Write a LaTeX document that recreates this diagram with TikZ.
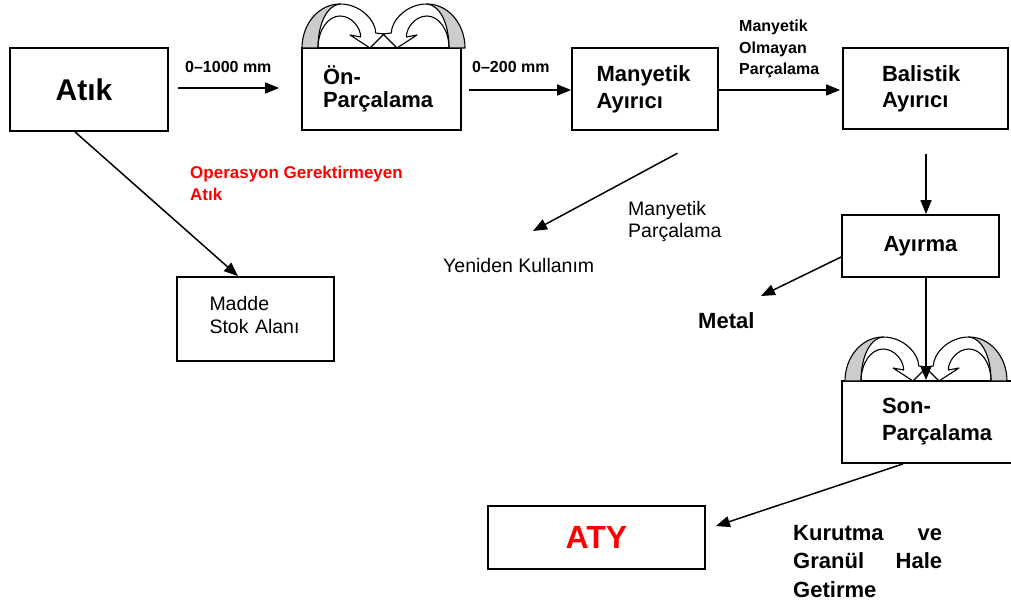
\documentclass[tikz,border=0pt]{standalone}
\usepackage{fontspec}
\setmainfont{Liberation Sans}
\usetikzlibrary{arrows.meta}
\tikzset{
  curv/.pic={
    \fill[white] (0,0) .. controls (0,-24.3) and (17,-44) .. (38,-44)
      .. controls (59,-44) and (73.7,-27) .. (73.7,-15) -- (82,-14) -- (68,0) -- (48,-13) -- (58.7,-11)
      .. controls (58.7,-20) and (50,-32) .. (38,-32) .. controls (25.9,-32) and (16,-17.7) .. (16,0) -- cycle;
    \fill[gray!40] (0,0) .. controls (0,-24.3) and (17,-44) .. (38,-44)
      .. controls (26,-43) and (16,-26) .. (16,0) -- cycle;
    \draw[line width=1.1pt, line join=round] (0,0) .. controls (0,-24.3) and (17,-44) .. (38,-44)
      .. controls (59,-44) and (73.7,-27) .. (73.7,-15) -- (82,-14) -- (68,0) -- (48,-13) -- (58.7,-11)
      .. controls (58.7,-20) and (50,-32) .. (38,-32) .. controls (25.9,-32) and (16,-17.7) .. (16,0) -- cycle;
    \draw[line width=1.1pt] (38,-44) .. controls (26,-43) and (16,-26) .. (16,0);
  }
}
\begin{document}
\begin{tikzpicture}[x=1pt,y=-1pt,
  box/.style={draw, line width=1.8pt, inner sep=0pt},
  arr/.style={line width=1.5pt, -{Triangle[length=14pt,width=11pt]}},
  hb/.style={font=\bfseries\fontsize{22}{27}\selectfont},
  lab/.style={inner sep=0pt, anchor=base west, font=\bfseries\fontsize{16}{21.5}\selectfont},
  reg/.style={inner sep=0pt, anchor=base west, font=\fontsize{19.5}{22.5}\selectfont}]
\useasboundingbox (0,0) rectangle (1011,602);
\clip (0,0) rectangle (1011,602);

% boxes
\node[box, minimum width=158pt, minimum height=83pt, font=\bfseries\fontsize{30}{36}\selectfont] (atik) at (89,89.5) {\hspace*{-10pt}Atık};
\node[box, hb, font=\bfseries\fontsize{22}{23}\selectfont, minimum width=159pt, minimum height=82pt, text width=117pt, align=left] (on) at (381.5,89) {Ön-\\Parçalama};
\node[box, hb, minimum width=146pt, minimum height=82pt, text width=97pt, align=left] (man) at (645,89) {Manyetik\\Ayırıcı};
\node[box, hb, font=\bfseries\fontsize{22}{26}\selectfont, minimum width=165pt, minimum height=81pt, text width=87pt, align=left] (bal) at (925.5,88.5) {Balistik\\Ayırıcı};
\node[box, hb, minimum width=157pt, minimum height=62pt] (ayir) at (920.5,246) {Ayırma};
\node[box, hb, minimum width=198pt, minimum height=82pt, text width=118pt, align=left] (son) at (941,422) {Son-\\Parçalama};
\node[box, font=\fontsize{19.5}{23}\selectfont, minimum width=157pt, minimum height=84pt, text width=92pt, align=left] (madde) at (255.5,319) {Madde\\Stok Alanı\rule[-9pt]{0pt}{0pt}};
\node[box, text=red, font=\bfseries\fontsize{32}{38}\selectfont, minimum width=217pt, minimum height=63pt] (aty) at (596.5,537.5) {ATY};

% curved arrows
\pic at (302,48) {curv};
\pic[xscale=-1] at (465,48) {curv};
\pic at (845,381) {curv};
\pic[xscale=-1] at (1007,381) {curv};

% free labels
\node[lab] (l1) at (185,72) {0–1000 mm};
\node[lab] (l2) at (472,72) {0–200 mm};
\node[lab] (l3) at (739,32) {\begin{tabular}[t]{@{}l@{}}Manyetik\\Olmayan\\Parçalama\end{tabular}};
\node[reg] (l4) at (628,215) {\begin{tabular}[t]{@{}l@{}}Manyetik\\Parçalama\end{tabular}};
\node[reg] (yen) at (443,272) {Yeniden Kullanım};
\node[lab, text=red, font=\bfseries\fontsize{17}{22}\selectfont] (op) at (190,178) {\begin{tabular}[t]{@{}l@{}}Operasyon Gerektirmeyen\\Atık\end{tabular}};
\node[lab, font=\bfseries\fontsize{22}{26}\selectfont] (metal) at (698,328) {Metal};
\node[lab, font=\bfseries\fontsize{22}{28.5}\selectfont] (kur) at (793,540) {\parbox[t]{149pt}{Kurutma\hfill ve\\Granül\hfill Hale\\Getirme}};

% connectors
\coordinate (yk) at (533,231);
\coordinate (met) at (761,296);
\draw[arr, shorten <=9pt, shorten >=22pt] (atik.east |- 0,88) -- (on.west |- 0,88);
\draw[arr, shorten <=7pt] (on.east |- 0,90) -- (man.west |- 0,90);
\draw[arr, shorten >=2pt] (man.east |- 0,90) -- (bal.west |- 0,90);
\draw[arr, shorten <=47pt] (man.south east) -- (yk);
\draw[arr] (atik.south -| 75,0) -- (madde.north -| 238,0);
\draw[arr, shorten <=24pt] (bal.south -| 926,0) -- (ayir.north -| 926,0);
\draw[arr] (ayir.west |- 0,257) -- (met);
\draw[arr] (ayir.south -| 926,0) -- (son.north -| 926,0);
\draw[arr, shorten >=10.5pt] (son.south -| 903,0) -- (aty.east |- 0,529.4);
\end{tikzpicture}
\end{document}
